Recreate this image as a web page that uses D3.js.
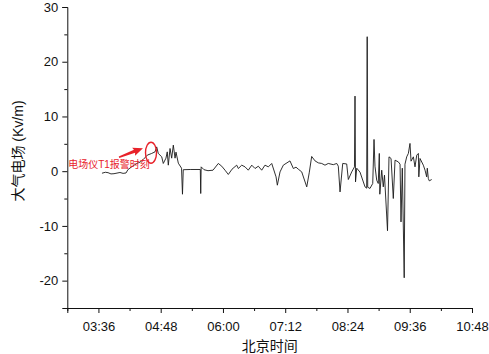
<!DOCTYPE html>
<html><head><meta charset="utf-8">
<script src="https://cdn.jsdelivr.net/npm/d3@7"></script>
<style>
html,body{margin:0;padding:0;background:#fff;}
svg{display:block;}
</style></head>
<body>
<svg id="chart" width="489" height="354"></svg>
<script>
// ---- data ----
const times = ["03:40:06","03:44:00","03:47:06","03:50:30","03:54:00","04:00:54","04:04:30","04:07:54","04:10:12","04:14:30","04:20:18","04:24:06","04:27:54","04:32:30","04:37:36","04:41:24","04:43:24","04:45:12","04:49:12","04:51:00","04:54:06","04:55:36","04:56:48","04:58:48","05:00:42","05:02:36","05:04:36","05:05:42","05:08:24","05:12:06","05:13:12","05:14:06","05:22:06","05:33:48","05:34:18","05:34:48","05:38:06","05:42:42","05:48:30","05:54:36","05:58:36","06:02:24","06:06:12","06:10:30","06:15:54","06:17:48","06:21:42","06:25:30","06:29:18","06:33:18","06:37:06","06:40:54","06:44:48","06:48:36","06:52:30","06:56:24","07:01:24","07:02:54","07:06:00","07:09:48","07:17:30","07:21:24","07:24:30","07:27:06","07:31:06","07:36:54","07:39:54","07:42:36","07:46:30","07:50:18","07:54:12","07:58:00","08:01:48","08:07:36","08:11:36","08:13:24","08:15:24","08:18:30","08:23:06","08:25:00","08:28:54","08:32:06","08:32:42","08:33:18","08:34:42","08:38:30","08:44:18","08:46:12","08:46:48","08:47:24","08:50:00","08:53:12","08:54:42","08:55:48","08:57:48","08:59:36","09:00:48","09:01:24","09:03:36","09:05:24","09:06:48","09:10:18","09:12:00","09:14:24","09:17:00","09:19:00","09:22:48","09:24:48","09:25:54","09:27:24","09:29:36","09:30:30","09:32:30","09:34:24","09:36:18","09:37:30","09:40:12","09:42:06","09:44:06","09:46:00","09:46:30","09:47:54","09:51:42","09:53:42","09:55:36","09:56:18","09:57:30","09:58:36","10:01:24"];
const values = [-0.37,-0.2,-0.27,-0.5,-0.46,-0.24,-0.4,-0.33,0.31,0.79,1.41,1.65,2.14,2.93,3.24,3.53,4.44,3.24,2.62,1.41,2.38,3.53,1.10,4.15,2.38,4.76,2.38,3.48,1.46,0.55,-4.21,0.27,0.31,0.31,-4.08,0.79,0.27,0.09,0.18,1.41,0.91,0.18,-0.60,0.37,1.10,0.49,1.10,0.79,0.18,1.10,0.49,0.91,0.18,1.10,0.79,1.41,-1.04,-2.56,-0.13,1.10,1.88,0.49,0.73,0.37,-0.13,-2.87,-0.18,2.69,1.88,1.52,1.41,1.10,1.41,1.19,1.41,0.91,-3.79,1.41,1.32,-1.52,-0.13,0.79,13.72,-1.96,0.55,-0.18,-2.87,-3.11,24.57,-2.93,-3.16,-2.25,5.80,0.91,-1.65,-2.25,3.24,-4.21,0.18,-2.87,-0.73,-10.88,2.62,2.32,-4.99,2.01,1.70,1.28,-9.27,0.55,-19.48,1.28,2.62,3.24,5.07,1.83,2.62,0.79,2.93,3.24,-1.04,2.32,1.10,0.18,-1.04,0.55,-1.34,-1.77,-1.52];
const xTickTimes = ["03:00","03:36","04:12","04:48","05:24","06:00","06:36","07:12","07:48","08:24","09:00","09:36","10:12","10:48"];
const xTickLabels = ["","03:36","","04:48","","06:00","","07:12","","08:24","","09:36","","10:48"];
const yTickValues = [-25,-20,-15,-10,-5,0,5,10,15,20,25,30];
const yTickLabels = ["","-20","","-10","","0","","10","","20","","30"];
const xTitle = "北京时间";
const yTitle = "大气电场 (Kv/m)";
const annotationText = "电场仪T1报警时刻";
const annotationTextAt = ["03:01:00", 0.55];
const arrowFrom = ["03:59:48", 2.56];
const arrowTo = ["04:27:30", 4.2];
const ellipseAt = ["04:36:48", 3.38];

// ---- chart ----
const parse = d3.timeParse("%H:%M:%S");
const parseHM = d3.timeParse("%H:%M");
const pt = s => s.length > 5 ? parse(s) : parseHM(s);
const n = Math.min(times.length, values.length);
const data = times.slice(0, n).map((t, i) => ({t: pt(t), v: values[i]}));

const svg = d3.select("#chart");
const mLeft = 67.3, mRight = 472, mTop = 7, mBottom = 308;
const x = d3.scaleTime().domain([parseHM("03:00"), parseHM("10:48")]).range([mLeft, mRight]);
const y = d3.scaleLinear().domain([-25, 30]).range([mBottom, mTop]);
const font = "'Liberation Sans', Arial, 'Noto Sans CJK SC', sans-serif";

// x axis
const xAxis = d3.axisBottom(x)
  .tickValues(xTickTimes.map(parseHM))
  .tickFormat((d, i) => xTickLabels[i])
  .tickSizeOuter(0).tickSize(5).tickPadding(9);
const gx = svg.append("g").attr("transform", `translate(0,${mBottom})`).call(xAxis);
gx.selectAll(".tick line").attr("y2", (d, i) => xTickLabels[i] ? 5 : 3);
gx.selectAll("text").attr("font-size", 13).attr("font-family", font).attr("fill", "#111");
gx.selectAll("line,path").attr("stroke", "#111");

// y axis
const yAxis = d3.axisLeft(y)
  .tickValues(yTickValues)
  .tickFormat((d, i) => yTickLabels[i])
  .tickSizeOuter(0).tickSize(5).tickPadding(4);
const gy = svg.append("g").attr("transform", `translate(${mLeft},0)`).call(yAxis);
gy.selectAll(".tick line").attr("x2", (d, i) => yTickLabels[i] ? -5 : -3);
gy.selectAll("text").attr("font-size", 13).attr("font-family", font).attr("fill", "#111");
gy.selectAll("line,path").attr("stroke", "#111");

// titles
svg.append("text").attr("x", (mLeft + mRight) / 2).attr("y", 351)
  .attr("text-anchor", "middle").attr("font-size", 14).attr("font-family", font).attr("fill", "#111")
  .text(xTitle);
svg.append("text").attr("transform", "translate(23,151) rotate(-90)")
  .attr("text-anchor", "middle").attr("font-size", 14).attr("font-family", font).attr("fill", "#111")
  .text(yTitle);

// line
const line = d3.line().x(d => x(d.t)).y(d => y(d.v));
svg.append("path").datum(data).attr("d", line)
  .attr("fill", "none").attr("stroke", "#1a1a1a").attr("stroke-width", 0.9)
  .attr("stroke-linejoin", "round");

// annotation
const red = "#e8222a";
svg.append("text").attr("x", x(pt(annotationTextAt[0]))).attr("y", y(annotationTextAt[1]))
  .attr("font-size", 10).attr("font-family", font).attr("fill", red).text(annotationText);

const ax0 = x(pt(arrowFrom[0])), ay0 = y(arrowFrom[1]);
const ax1 = x(pt(arrowTo[0])), ay1 = y(arrowTo[1]);
const ang = Math.atan2(ay1 - ay0, ax1 - ax0) * 180 / Math.PI;
const len = Math.hypot(ax1 - ax0, ay1 - ay0);
svg.append("path")
  .attr("transform", `translate(${ax0},${ay0}) rotate(${ang})`)
  .attr("d", `M0,-0.8 L${len - 9},-1.6 L${len - 10},-4.2 L${len},0 L${len - 10},4.2 L${len - 9},1.6 L0,0.8 Z`)
  .attr("fill", red);

svg.append("ellipse").attr("cx", x(pt(ellipseAt[0]))).attr("cy", y(ellipseAt[1]))
  .attr("rx", 5.5).attr("ry", 10.5).attr("fill", "none").attr("stroke", red).attr("stroke-width", 1.4);
</script>
</body></html>
